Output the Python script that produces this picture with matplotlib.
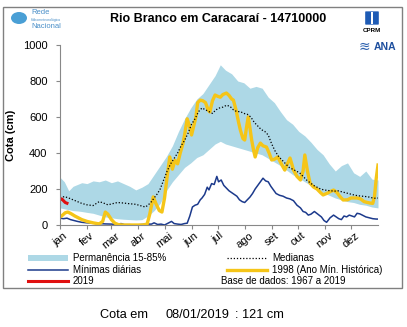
import numpy as np
import matplotlib
matplotlib.use('Agg')
import matplotlib.pyplot as plt
from matplotlib.lines import Line2D
from matplotlib.patches import Rectangle, Ellipse, FancyBboxPatch

plt.rcParams['font.family'] = ['Liberation Sans', 'DejaVu Sans']

# ---- data (day of year, cota in cm) ----
band_days = [0, 5, 10, 15, 20, 25, 31, 38, 45, 52, 59, 66, 73, 80, 87, 94, 101, 108, 115, 122,
             129, 136, 143, 150, 157, 164, 171, 178, 184, 190, 197, 204, 211, 218, 225, 232, 239,
             246, 253, 260, 267, 274, 281, 288, 295, 302, 309, 316, 323, 330, 337, 344, 351, 358, 365]
band_hi = [265, 240, 190, 215, 225, 235, 230, 245, 240, 250, 235, 245, 230, 215, 195, 210, 230, 280,
           330, 380, 440, 520, 590, 650, 700, 730, 780, 830, 890, 860, 840, 800, 790, 760, 770, 760,
           710, 680, 630, 585, 560, 520, 495, 460, 420, 390, 340, 300, 330, 345, 290, 270, 300, 255, 250]
band_lo = [95, 90, 85, 80, 78, 75, 70, 65, 55, 45, 40, 35, 32, 30, 28, 30, 50, 80, 120, 190,
           240, 280, 320, 345, 375, 390, 420, 450, 465, 450, 440, 430, 420, 410, 400, 390, 370,
           350, 330, 305, 280, 260, 240, 220, 200, 180, 165, 150, 140, 130, 125, 115, 110, 100, 95]

med_days = [0, 5, 10, 15, 20, 25, 31, 38, 45, 50, 55, 60, 66, 73, 80, 87, 94, 98, 101, 105, 108,
            112, 115, 119, 123, 127, 131, 135, 139, 143, 147, 151, 155, 159, 163, 167, 171, 175,
            179, 183, 187, 191, 195, 199, 203, 207, 211, 215, 219, 223, 227, 231, 235, 239, 243,
            247, 251, 255, 259, 263, 267, 271, 275, 279, 283, 287, 291, 295, 299, 303, 307, 311,
            315, 319, 323, 327, 331, 335, 339, 343, 347, 351, 355, 359, 363, 365]
med_val = [150, 158, 150, 140, 130, 120, 112, 108, 130, 122, 112, 118, 125, 122, 118, 115, 105, 100,
           110, 130, 150, 175, 200, 250, 300, 340, 370, 400, 440, 470, 510, 560, 590, 630, 650, 640,
           630, 620, 640, 650, 655, 665, 660, 640, 630, 630, 620, 615, 600, 570, 550, 530, 520, 500,
           450, 410, 380, 360, 340, 320, 310, 300, 290, 270, 250, 235, 220, 210, 200, 195, 192, 190,
           188, 190, 185, 180, 175, 170, 165, 162, 160, 158, 155, 150, 148, 150]

min_days = [0, 4, 8, 12, 16, 20, 25, 31, 38, 45, 52, 59, 66, 70, 74, 80, 87, 94, 100, 105, 108, 112,
            116, 120, 124, 128, 131, 135, 139, 143, 146, 149, 152, 155, 158, 161, 163, 166, 169,
            171, 174, 177, 180, 182, 185, 188, 191, 194, 197, 200, 203, 206, 209, 212, 215, 218,
            221, 224, 227, 230, 233, 236, 239, 242, 245, 248, 252, 256, 260, 264, 268, 272, 276,
            279, 282, 285, 288, 292, 296, 300, 303, 306, 310, 314, 317, 320, 323, 326, 329, 332,
            335, 338, 341, 344, 347, 351, 355, 359, 363, 365]
min_val = [38, 35, 38, 30, 25, 20, 15, 12, 10, 8, 6, 5, 3, 8, 2, 2, 0, 3, 5, 5, 12, 3,
           5, 0, 10, 20, 8, 5, 3, 8, 10, 50, 100, 110, 115, 140, 150, 170, 210,
           195, 230, 225, 270, 240, 250, 220, 205, 190, 180, 170, 160, 140, 130, 125, 140, 155,
           175, 200, 220, 240, 260, 245, 240, 215, 195, 175, 165, 160, 150, 145, 135, 110, 95,
           75, 70, 55, 60, 75, 60, 45, 25, 15, 40, 55, 45, 35, 30, 50, 45, 55,
           50, 45, 65, 62, 55, 45, 40, 35, 33, 33]

y1998_days = [0, 3, 6, 9, 13, 17, 21, 25, 31, 38, 45, 49, 52, 55, 59, 63, 67, 72, 80, 88, 95, 100,
              103, 107, 110, 114, 117, 120, 123, 126, 129, 132, 135, 138, 141, 143, 146, 148, 151,
              154, 156, 158, 161, 164, 167, 170, 172, 175, 178, 181, 184, 187, 191, 194, 197, 199,
              202, 205, 207, 210, 212, 214, 216, 218, 220, 222, 224, 227, 230, 233, 237, 240, 243,
              246, 250, 254, 258, 261, 264, 266, 268, 272, 276, 279, 281, 284, 287, 291, 295, 299,
              302, 306, 310, 314, 318, 321, 325, 330, 334, 338, 341, 345, 349, 353, 356, 359, 361,
              363, 365]
y1998_val = [44, 55, 68, 72, 62, 50, 40, 30, 20, 12, 6, 20, 72, 60, 30, 10, 2, 0, 0, 0, 0, 5,
             60, 156, 120, 80, 72, 150, 270, 378, 310, 360, 340, 400, 450, 500, 590, 560, 500,
             560, 600, 680, 694, 690, 680, 640, 628, 690, 722, 715, 710, 725, 733, 720, 700, 694,
             640, 570, 528, 480, 472, 540, 600, 540, 472, 420, 378, 430, 455, 440, 433, 400, 361,
             365, 378, 340, 305, 340, 372, 340, 305, 270, 250, 300, 389, 300, 233, 211, 200, 180,
             167, 175, 185, 194, 180, 160, 139, 140, 150, 150, 150, 145, 130, 125, 122, 120, 160,
             260, 333]

y2019_days = [0, 2, 4, 6, 8]
y2019_val = [140, 145, 135, 125, 121]

month_starts = [0, 31, 59, 90, 120, 151, 181, 212, 243, 273, 304, 334]
month_labels = ['jan', 'fev', 'mar', 'abr', 'mai', 'jun', 'jul', 'ago', 'set', 'out', 'nov', 'dez']

W, H = 407, 327
fig = plt.figure(figsize=(W / 100, H / 100), dpi=100)

def fx(px):
    return px / W

def fy(py):
    return 1 - py / H

ax = fig.add_axes([fx(60), fy(225), fx(378) - fx(60), fy(45) - fy(225)])

c_band = '#add8e6'
c_min = '#1c3a8c'
c_1998 = '#f5c518'
c_2019 = '#e01010'

ax.fill_between(band_days, band_lo, band_hi, color=c_band, lw=0)
ax.plot(min_days, min_val, color=c_min, lw=1.1)
ax.plot(y1998_days, y1998_val, color=c_1998, lw=2.4, solid_joinstyle='round')
ax.plot(med_days, med_val, color='black', lw=0.9, ls=(0, (1, 1.5)))
ax.plot(y2019_days, y2019_val, color=c_2019, lw=2.2)

ax.set_xlim(0, 365)
ax.set_ylim(0, 1000)
ax.set_yticks(range(0, 1001, 200))
ax.tick_params(axis='y', labelsize=8, length=3, color='#888888', pad=6)
ax.set_xticks(month_starts)
ax.set_xticklabels(month_labels, rotation=38, ha='center', fontsize=8)
ax.tick_params(axis='x', length=3, color='#888888', pad=1)
for s in ['top', 'right']:
    ax.spines[s].set_visible(False)
for s in ['left', 'bottom']:
    ax.spines[s].set_color('#888888')
    ax.spines[s].set_linewidth(0.8)
ax.set_ylabel('Cota (cm)', fontsize=8, fontweight='bold', labelpad=5)

# frame
fig.add_artist(Rectangle((fx(3), fy(288)), fx(399), fy(7) - fy(288), transform=fig.transFigure,
                         fill=False, edgecolor='#808080', lw=1))

# title
fig.text(fx(218), fy(19), 'Rio Branco em Caracaraí - 14710000', ha='center', va='center',
         fontsize=9, fontweight='bold')

# logos (approximation)
fig.add_artist(Ellipse((fx(19), fy(18)), fx(16), fy(0) - fy(12), transform=fig.transFigure,
                       color='#4a9fd5', lw=0))
fig.text(fx(31), fy(13), 'Rede', fontsize=5.5, color='#4a8fc8', va='center')
fig.text(fx(31), fy(20), 'Hidrometeorológica', fontsize=2.5, color='#4a8fc8', va='center')
fig.text(fx(31), fy(27), 'Nacional', fontsize=5.5, color='#4a8fc8', va='center')

fig.add_artist(FancyBboxPatch((fx(366), fy(24)), fx(12), fy(0) - fy(12),
                              boxstyle='round,pad=0.002', transform=fig.transFigure,
                              color='#1e5bb5', lw=0))
fig.add_artist(Rectangle((fx(371), fy(24)), fx(2), fy(0) - fy(12), transform=fig.transFigure,
                         color='white', lw=0))
fig.text(fx(372), fy(31), 'CPRM', fontsize=4.5, fontweight='bold', ha='center', va='center')
fig.text(fx(364), fy(47), '≋', fontsize=10, color='#2f63b0', ha='center', va='center',
         family=['DejaVu Sans'])
fig.text(fx(385), fy(47), 'ANA', fontsize=7.5, fontweight='bold', color='#1e4f9e', ha='center',
         va='center')

# legend
lx0, lx1, ltx = 28, 68, 73
rx0, rx1, rtx = 227, 267, 272
r1, r2, r3 = 258, 270, 281
fig.add_artist(Rectangle((fx(lx0), fy(r1 + 3)), fx(lx1 - lx0), fy(0) - fy(6),
                         transform=fig.transFigure, color=c_band, lw=0))
fig.add_artist(Line2D([fx(lx0), fx(lx1)], [fy(r2), fy(r2)], transform=fig.transFigure,
                      color=c_min, lw=1.1))
fig.add_artist(Line2D([fx(lx0), fx(lx1)], [fy(r3), fy(r3)], transform=fig.transFigure,
                      color=c_2019, lw=2.2))
fig.add_artist(Line2D([fx(rx0), fx(rx1)], [fy(r1), fy(r1)], transform=fig.transFigure,
                      color='black', lw=0.9, ls=(0, (1, 1.5))))
fig.add_artist(Line2D([fx(rx0), fx(rx1)], [fy(r2), fy(r2)], transform=fig.transFigure,
                      color=c_1998, lw=2.4))
lfs = 7
fig.text(fx(ltx), fy(r1), 'Permanência 15-85%', fontsize=lfs, va='center')
fig.text(fx(ltx), fy(r2), 'Mínimas diárias', fontsize=lfs, va='center')
fig.text(fx(ltx), fy(r3), '2019', fontsize=lfs, va='center')
fig.text(fx(rtx), fy(r1), 'Medianas', fontsize=lfs, va='center')
fig.text(fx(rtx), fy(r2), '1998 (Ano Mín. Histórica)', fontsize=lfs, va='center')
fig.text(fx(221), fy(r3), 'Base de dados: 1967 a 2019', fontsize=lfs, va='center')

# footer
fig.text(fx(100), fy(315), 'Cota em', fontsize=9.2, va='center')
fig.text(fx(165), fy(315), '08/01/2019', fontsize=9.2, va='center')
fig.text(fx(235), fy(315), ': 121 cm', fontsize=9.2, va='center')

fig.savefig('out.png', dpi=100)
